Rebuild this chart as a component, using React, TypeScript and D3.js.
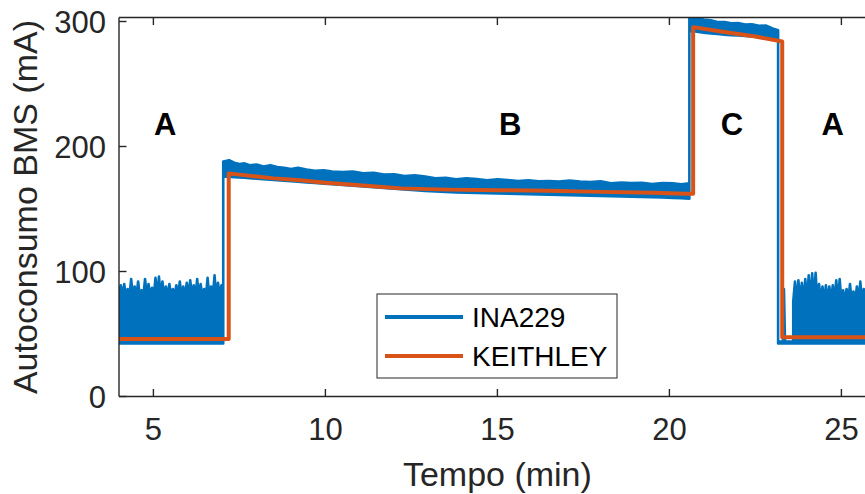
import React from 'react';
import * as d3 from 'd3';

// ---------- data ----------
const xTicks = [5, 10, 15, 20, 25];
const yTicks = [0, 100, 200, 300];
const zoneLabels = ['A', 'B', 'C', 'A'];
const zoneTimes = [5.34, 15.37, 21.82, 24.75];
const zoneLevel = 209;

// KEITHLEY (min, mA)
const keithleyTime = [4, 7.19, 7.19, 7.5, 8, 8.5, 9.27, 10, 11, 12.2, 13.6, 15, 16.5, 18, 19.5, 20.46, 20.69, 20.69, 21.5, 22.5, 23.28, 23.28, 26];
const keithleyValue = [46, 46, 178.5, 177.5, 176, 174.5, 173, 171, 169, 166.5, 165.5, 165, 164.6, 163.7, 163, 162.2, 162.2, 295.5, 292, 288, 284, 47.5, 47.5];

// INA229 – phase A (start): noise peaks, spread over 4.00–7.03 min
const inaA1Span = [4.0, 7.03];
const inaA1Peaks = [89, 90, 86, 94, 88, 92, 85, 94, 90, 87, 95, 96, 92, 88, 90, 86, 89, 92, 88, 91, 93, 89, 94, 90, 86, 95, 88, 97, 91, 89];
const inaA1Floor = 42.5;
const inaA1Valley = 80;

// INA229 – phase B: envelope (min, low, high)
const inaBTime = [7.03, 7.2, 7.35, 7.5, 7.65, 7.8, 8.0, 8.2, 8.4, 8.6, 8.8, 9.0, 9.2, 9.45, 9.7, 9.95, 10.2, 10.5, 10.8, 11.1, 11.4, 11.7, 12.0, 12.3, 12.6, 12.9, 13.2, 13.5, 13.8, 14.1, 14.4, 14.7, 15.0, 15.3, 15.6, 15.9, 16.2, 16.5, 16.8, 17.1, 17.4, 17.7, 18.0, 18.3, 18.6, 18.9, 19.2, 19.5, 19.8, 20.1, 20.35, 20.58];
const inaBLow = [176, 175.8, 175.5, 175.2, 175, 174.7, 174.2, 173.8, 173.4, 173, 172.6, 172.2, 171.8, 171.3, 170.8, 170.3, 169.8, 169.2, 168.6, 168, 167.4, 166.8, 166.2, 165.6, 165, 164.5, 164, 163.6, 163.3, 163, 162.8, 162.6, 162.4, 162.2, 162, 161.8, 161.6, 161.4, 161.2, 161, 160.8, 160.6, 160.4, 160.2, 160, 159.8, 159.6, 159.4, 159.2, 158.9, 158.6, 158.3];
const inaBHigh = [188, 189, 187, 186, 186.5, 185, 185.5, 184, 185, 183.5, 183, 182, 183, 181.5, 180.5, 181, 180, 179.5, 180, 178.5, 179, 177.5, 177.8, 176.4, 177, 176, 174.5, 175, 173.7, 174.5, 174, 173, 173.8, 173.2, 172.4, 173, 172.2, 172.4, 172, 172.8, 171.9, 171.5, 172.2, 170.5, 171.2, 170.8, 171, 170, 170.7, 170.5, 169.8, 170.5];

// INA229 – phase C: envelope (min, low, high)
const inaCTime = [20.58, 20.75, 20.9, 21.0, 21.2, 21.4, 21.6, 21.8, 22.0, 22.2, 22.4, 22.6, 22.8, 23.0, 23.16];
const inaCLow = [292.5, 292, 291.5, 291, 290.5, 290, 289.5, 289, 288.8, 288.5, 288, 287.5, 287, 286.5, 286];
const inaCHigh = [305, 303, 302, 301.5, 301, 299.5, 299.5, 298.5, 298.8, 297.5, 297.8, 296.5, 296.8, 294.5, 293];

// INA229 – phase A (end): quiet part, single spike, then noise peaks over 23.60–26.00 min
const inaA2QuietTime = [23.16, 23.3, 23.33, 23.36, 23.6];
const inaA2QuietHigh = [44, 44, 86, 44, 44];
const inaA2Span = [23.6, 26.0];
const inaA2Peaks = [92, 93, 91, 94, 97, 98.5, 99, 90, 88, 89, 88, 89, 93, 94, 85, 86, 90, 84, 88, 92, 86, 90, 87, 91];
const inaA2Floor = 42.5;
const inaA2Valley = 76;

// ---------- layout ----------
const W = 865;
const H = 494;
const X0 = 119;
const PX_PER_MIN = 34.4;
const Y_TOP = 17.5;
const Y_BOT = 396.5;
const BLUE = '#0072BD';
const ORANGE = '#D95319';
const AXIS = '#262626';
const FONT = '"Liberation Sans", Arial, Helvetica, sans-serif';

type Env = { t: number; lo: number; hi: number };

function noisy(span: number[], peaks: number[], floor: number, valley: number): Env[] {
  const out: Env[] = [{ t: span[0], lo: floor, hi: valley }];
  const d = (span[1] - span[0]) / peaks.length;
  peaks.forEach((p, i) => {
    out.push({ t: span[0] + (i + 0.5) * d, lo: floor, hi: p });
    out.push({ t: span[0] + (i + 1) * d, lo: floor, hi: valley });
  });
  return out;
}

export default function App() {
  const x = d3.scaleLinear().domain([4, 26]).range([X0, X0 + 22 * PX_PER_MIN]);
  const y = d3.scaleLinear().domain([0, 303.2]).range([Y_BOT, Y_TOP]);

  const ina: Env[] = [
    ...noisy(inaA1Span, inaA1Peaks, inaA1Floor, inaA1Valley),
    ...inaBTime.map((t, i) => ({ t, lo: inaBLow[i], hi: inaBHigh[i] })),
    ...inaCTime.map((t, i) => ({ t, lo: inaCLow[i], hi: inaCHigh[i] })),
    ...inaA2QuietTime.map((t, i) => ({ t, lo: inaA2Floor, hi: inaA2QuietHigh[i] })),
    ...noisy(inaA2Span, inaA2Peaks, inaA2Floor, inaA2Valley),
  ];

  const area = d3
    .area<Env>()
    .x((d) => x(d.t))
    .y0((d) => y(d.lo))
    .y1((d) => y(d.hi));

  const kLine = d3
    .line<number>()
    .x((_, i) => x(keithleyTime[i]))
    .y((v) => y(v));

  const xEnd = W;

  return (
    <svg
      width={W}
      height={H}
      style={{ position: 'absolute', left: 0, top: 0, background: '#fff' }}
      fontFamily={FONT}
    >
      <defs>
        <clipPath id="plot">
          <rect x={X0} y={Y_TOP} width={xEnd - X0} height={Y_BOT - Y_TOP} />
        </clipPath>
      </defs>
      <rect x={0} y={0} width={W} height={H} fill="#fff" />

      <g clipPath="url(#plot)">
        <path d={area(ina) || ''} fill={BLUE} stroke={BLUE} strokeWidth={2.6} strokeLinejoin="round" />
        <path d={kLine(keithleyValue) || ''} fill="none" stroke={ORANGE} strokeWidth={4} strokeLinejoin="round" />
      </g>

      {/* axes box (left, bottom, top) */}
      <g stroke={AXIS} strokeWidth={1.4} fill="none">
        <line x1={X0} y1={Y_TOP} x2={X0} y2={Y_BOT} />
        <line x1={X0} y1={Y_BOT} x2={xEnd} y2={Y_BOT} />
        <line x1={X0} y1={Y_TOP} x2={xEnd} y2={Y_TOP} />
        {xTicks.map((t) => (
          <g key={'xt' + t}>
            <line x1={x(t)} x2={x(t)} y1={Y_BOT} y2={Y_BOT - 7.5} />
            <line x1={x(t)} x2={x(t)} y1={Y_TOP} y2={Y_TOP + 7.5} />
          </g>
        ))}
        {yTicks.map((v) => (
          <line key={'yt' + v} x1={X0} x2={X0 + 7.5} y1={y(v)} y2={y(v)} />
        ))}
      </g>

      {/* tick labels */}
      <g fill={AXIS} fontSize={31}>
        {xTicks.map((t) => (
          <text key={'xl' + t} x={x(t)} y={440} textAnchor="middle">
            {t}
          </text>
        ))}
        {yTicks.map((v) => (
          <text key={'yl' + v} x={106} y={y(v) + 11} textAnchor="end">
            {v}
          </text>
        ))}
      </g>

      {/* axis labels */}
      <text x={x(15)} y={486} fontSize={34} fill={AXIS} textAnchor="middle">
        Tempo (min)
      </text>
      <text
        transform={`translate(37, ${(Y_TOP + Y_BOT) / 2}) rotate(-90)`}
        fontSize={34}
        fill={AXIS}
        textAnchor="middle"
      >
        Autoconsumo BMS (mA)
      </text>

      {/* zone letters */}
      {zoneLabels.map((l, i) => (
        <text
          key={'z' + i}
          x={x(zoneTimes[i])}
          y={y(zoneLevel)}
          fontSize={31}
          fontWeight="bold"
          fill="#000"
          textAnchor="middle"
        >
          {l}
        </text>
      ))}

      {/* legend */}
      <g>
        <rect x={377} y={294} width={240} height={84} fill="#fff" stroke={AXIS} strokeWidth={1} />
        <line x1={385} x2={463} y1={317} y2={317} stroke={BLUE} strokeWidth={4} />
        <line x1={385} x2={463} y1={356} y2={356} stroke={ORANGE} strokeWidth={4} />
        <text x={472} y={327} fontSize={28} fill="#000">
          INA229
        </text>
        <text x={472} y={366} fontSize={28} fill="#000">
          KEITHLEY
        </text>
      </g>
    </svg>
  );
}
